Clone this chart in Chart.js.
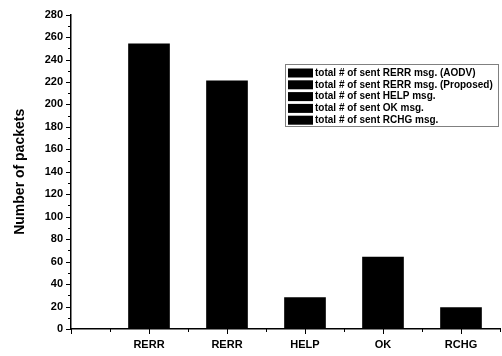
<!DOCTYPE html>
<html>
<head>
<meta charset="utf-8">
<script src="https://cdn.jsdelivr.net/npm/chart.js@4/dist/chart.umd.min.js"></script>
<style>
  html, body { margin: 0; padding: 0; background: #fff; }
  #wrap { width: 502px; height: 356px; }
</style>
</head>
<body>
<div id="wrap"><canvas id="myChart" width="502" height="356"></canvas></div>
<script>
// data
let categories = ['RERR', 'RERR', 'HELP', 'OK', 'RCHG'];
let positions = [1, 2, 3, 4, 5];
let packets = [254, 221, 28, 64, 19];
let legendLabels = [
  'total # of sent RERR msg. (AODV)',
  'total # of sent RERR msg. (Proposed)',
  'total # of sent HELP msg.',
  'total # of sent OK msg.',
  'total # of sent RCHG msg.'
];

let points = [];
for (let i = 0; i < packets.length; i++) {
  points.push({ x: positions[i], y: packets[i] });
}

let font = "'Liberation Sans', Arial, sans-serif";

// draws the tick marks (major + minor) and the boxed legend inside the plot
let extras = {
  id: 'extras',
  afterDraw(chart) {
    let c = chart.ctx;
    let x = chart.scales.x;
    let y = chart.scales.y;
    c.save();
    c.strokeStyle = '#000';
    c.lineWidth = 1;
    c.beginPath();
    for (let v = 0; v <= 280; v += 10) {
      let py = Math.round(y.getPixelForValue(v)) + 0.5;
      let len = v % 20 == 0 ? 5 : 3;
      c.moveTo(y.right - len, py);
      c.lineTo(y.right, py);
    }
    for (let v = 0; v <= 5.5; v += 0.5) {
      let px = Math.round(x.getPixelForValue(v)) + 0.5;
      let len = v % 1 == 0 ? 5 : 3;
      c.moveTo(px, x.top);
      c.lineTo(px, x.top + len);
    }
    c.stroke();

    // legend
    let lx = 285, ly = 64, lw = 213, lh = 62;
    c.setLineDash([1, 1]);
    c.strokeRect(lx + 0.5, ly + 0.5, lw, lh);
    c.setLineDash([]);
    c.font = 'bold 10px ' + font;
    c.textBaseline = 'middle';
    c.fillStyle = '#000';
    for (let i = 0; i < legendLabels.length; i++) {
      let rowY = ly + 9 + i * 11.8;
      c.fillRect(lx + 3, rowY - 4.5, 25, 9);
      c.fillText(legendLabels[i], lx + 30, rowY);
    }
    c.restore();
  }
};

var ctx = document.getElementById('myChart').getContext('2d');
var chart = new Chart(ctx, {
  type: 'bar',
  data: {
    datasets: [{
      label: 'Number of packets',
      data: points,
      backgroundColor: '#000',
      borderWidth: 0,
      barThickness: 41
    }]
  },
  options: {
    responsive: false,
    animation: false,
    layout: { padding: { top: 14, right: 2, left: 12, bottom: 0 } },
    plugins: {
      legend: { display: false },
      tooltip: { enabled: false }
    },
    scales: {
      x: {
        type: 'linear',
        offset: false,
        min: 0,
        max: 5.5,
        afterFit(scale) { scale.height = 27; },
        border: { color: '#000', width: 1.5 },
        // invisible ticks only push the labels down
        grid: { drawOnChartArea: false, drawTicks: true, tickLength: 9, tickColor: 'rgba(0,0,0,0)', offset: false },
        ticks: {
          stepSize: 0.5,
          autoSkip: false,
          maxRotation: 0,
          padding: 0,
          color: '#000',
          font: { family: font, size: 11, weight: 'bold' },
          callback: function (v) {
            let i = positions.indexOf(v);
            return i >= 0 ? categories[i] : '';
          }
        }
      },
      y: {
        min: 0,
        max: 280,
        afterFit(scale) { scale.width = 59; },
        border: { color: '#000', width: 1.5 },
        grid: { display: false, drawTicks: false },
        title: {
          display: true,
          text: 'Number of packets',
          color: '#000',
          padding: { top: 0, bottom: 0 },
          font: { family: font, size: 14, weight: 'bold' }
        },
        ticks: {
          stepSize: 20,
          padding: 8,
          color: '#000',
          font: { family: font, size: 11, weight: 'bold' }
        }
      }
    }
  },
  plugins: [extras]
});
</script>
</body>
</html>
